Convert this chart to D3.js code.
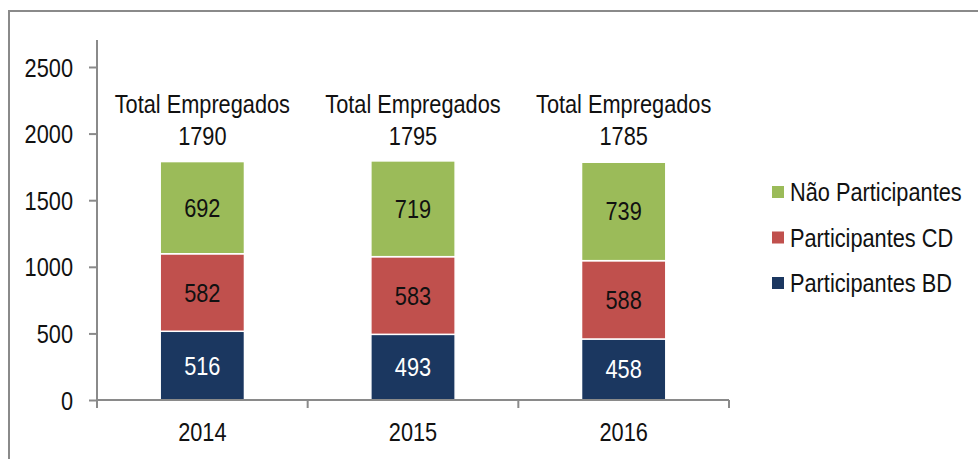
<!DOCTYPE html>
<html>
<head>
<meta charset="utf-8">
<script src="https://cdn.jsdelivr.net/npm/d3@7"></script>
<style>
  body { margin: 0; background: #fff; }
  svg text { font-family: "Liberation Sans", Arial, sans-serif; }
</style>
</head>
<body>
<div id="plot"></div>
<script>
// data
var years = ["2014", "2015", "2016"];
var participantesBD = [516, 493, 458];
var participantesCD = [582, 583, 588];
var naoParticipantes = [692, 719, 739];
var totals = [1790, 1795, 1785];
var yTicks = [0, 500, 1000, 1500, 2000, 2500];

var seriesNames = ["Participantes BD", "Participantes CD", "Não Participantes"];
var seriesColors = ["#1B3760", "#C0504D", "#9BBB59"];
var seriesText = ["#fff", "#111", "#111"];

// rows for the stack
var rows = years.map(function(yr, i) {
  return {year: yr, "Participantes BD": participantesBD[i],
          "Participantes CD": participantesCD[i], "Não Participantes": naoParticipantes[i],
          total: totals[i]};
});

var W = 978, H = 459;
var FS = 25;
var svg = d3.select("#plot").append("svg")
  .attr("width", W)
  .attr("height", H);

// outer frame (left + top visible)
svg.append("path")
  .attr("d", "M9,459 V11 H978")
  .attr("fill", "none")
  .attr("stroke", "#8a8a8a")
  .attr("stroke-width", 2);

var x = d3.scaleBand().domain(years).range([97, 729]).paddingInner(0.6).paddingOuter(0.3);
var y = d3.scaleLinear().domain([0, 2500]).range([400, 67]);

var stack = d3.stack().keys(seriesNames)(rows);

var groups = svg.selectAll(".series")
  .data(stack)
  .enter().append("g")
  .attr("class", "series");

groups.selectAll("rect")
  .data(function(s) { return s.map(function(d) { d.key = s.key; return d; }); })
  .enter().append("rect")
  .attr("x", function(d) { return x(d.data.year); })
  .attr("y", function(d) { return y(d[1]); })
  .attr("width", x.bandwidth())
  .attr("height", function(d) { return y(d[0]) - y(d[1]); })
  .attr("fill", function(d) { return seriesColors[seriesNames.indexOf(d.key)]; })
  .attr("stroke", "#fff")
  .attr("stroke-width", 1.5);

groups.selectAll("text")
  .data(function(s) { return s; })
  .enter().append("text")
  .attr("x", function(d) { return x(d.data.year) + x.bandwidth() / 2; })
  .attr("y", function(d) { return (y(d[0]) + y(d[1])) / 2 + 9; })
  .attr("text-anchor", "middle")
  .attr("font-size", FS)
  .attr("fill", function(d) { return seriesText[seriesNames.indexOf(d.key)]; })
  .text(function(d) { return d[1] - d[0]; });

// totals above the bars
var tot = svg.selectAll(".total")
  .data(rows)
  .enter().append("text")
  .attr("class", "total")
  .attr("text-anchor", "middle")
  .attr("font-size", FS)
  .attr("fill", "#111");
tot.append("tspan")
  .attr("x", function(d) { return x(d.year) + x.bandwidth() / 2; })
  .attr("y", 113)
  .text("Total Empregados");
tot.append("tspan")
  .attr("x", function(d) { return x(d.year) + x.bandwidth() / 2; })
  .attr("y", 145)
  .text(function(d) { return d.total; });

// y axis
var yAxis = svg.append("g")
  .attr("transform", "translate(97,0)")
  .call(d3.axisLeft(y).tickValues(yTicks).tickFormat(d3.format("d")).tickSize(8).tickPadding(16));
yAxis.select(".domain").attr("d", "M0,40 V400");

// x axis with ticks at category boundaries
var xb = d3.scaleLinear().domain([0, 3]).range([97, 729]);
var xAxis = svg.append("g")
  .attr("transform", "translate(0,400)");
xAxis.append("path")
  .attr("d", "M97,0 H729")
  .attr("class", "domain");
xAxis.selectAll(".bt")
  .data([0, 1, 2, 3])
  .enter().append("line")
  .attr("class", "bt")
  .attr("x1", function(d) { return xb(d); })
  .attr("x2", function(d) { return xb(d); })
  .attr("y1", 0)
  .attr("y2", 8);
xAxis.selectAll(".yl")
  .data(years)
  .enter().append("text")
  .attr("class", "yl")
  .attr("x", function(d) { return x(d) + x.bandwidth() / 2; })
  .attr("y", 41)
  .attr("text-anchor", "middle")
  .attr("font-size", FS)
  .attr("fill", "#111")
  .text(function(d) { return d; });

svg.selectAll(".domain, .tick line, .bt")
  .attr("stroke", "#8a8a8a")
  .attr("stroke-width", 2)
  .attr("fill", "none");
yAxis.selectAll(".tick text")
  .attr("font-size", FS)
  .attr("fill", "#111")
  .attr("dy", "0.36em");

// legend
var legendNames = seriesNames.slice().reverse();
var legend = svg.selectAll(".legend")
  .data(legendNames)
  .enter().append("g")
  .attr("class", "legend")
  .attr("transform", function(d, i) { return "translate(772," + (186 + i * 45.5) + ")"; });
legend.append("rect")
  .attr("width", 12)
  .attr("height", 12)
  .attr("fill", function(d) { return seriesColors[seriesNames.indexOf(d)]; });
legend.append("text")
  .attr("x", 18)
  .attr("y", 15)
  .attr("font-size", FS)
  .attr("fill", "#111")
  .text(function(d) { return d; });

// condense glyphs to mimic a narrow face
svg.selectAll("text").each(function() {
  var el = d3.select(this);
  var parts = el.selectAll("tspan");
  if (parts.size()) {
    parts.each(function() {
      d3.select(this).attr("textLength", this.getComputedTextLength() * 0.87)
        .attr("lengthAdjust", "spacingAndGlyphs");
    });
  } else {
    el.attr("textLength", this.getComputedTextLength() * 0.87)
      .attr("lengthAdjust", "spacingAndGlyphs");
  }
});
</script>
</body>
</html>
